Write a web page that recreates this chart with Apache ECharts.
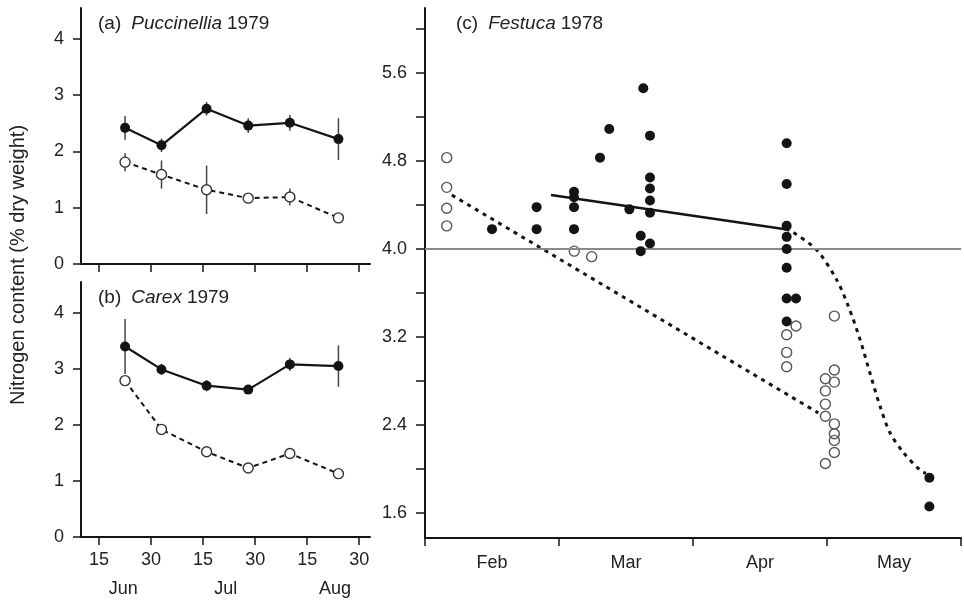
<!DOCTYPE html>
<html>
<head>
<meta charset="utf-8">
<script src="https://cdn.jsdelivr.net/npm/echarts@6/dist/echarts.min.js"></script>
<style>
  html, body { margin: 0; padding: 0; background: #fff; }
  #main { width: 964px; height: 601px; }
</style>
</head>
<body>
<div id="main"></div>
<script>
// sampling dates, days counted so that 15 Jun = 15, 30 Jun = 30, 15 Jul = 45 ...
const sampleDays = [22.5, 33, 46, 58, 70, 84];
const dayTicks = [15, 30, 45, 60, 75, 90];
const dayTickLabels = ["15", "30", "15", "30", "15", "30"];
const monthNamesAB = ["Jun", "Jul", "Aug"];
const monthPosAB = [22, 51.5, 83];

// (a) Puccinellia 1979
const puccFilled = [2.42, 2.11, 2.76, 2.46, 2.51, 2.22];
const puccFilledErr = [0.21, 0.12, 0.12, 0.13, 0.14, 0.37];
const puccOpen = [1.81, 1.59, 1.32, 1.17, 1.19, 0.82];
const puccOpenErr = [0.16, 0.25, 0.43, 0.09, 0.15, 0];

// (b) Carex 1979
const carexFilled = [3.40, 2.99, 2.70, 2.63, 3.08, 3.05];
const carexFilledErr = [0.49, 0.1, 0.1, 0.05, 0.12, 0.37];
const carexOpen = [2.79, 1.92, 1.52, 1.23, 1.49, 1.13];

const abTicks = [0, 1, 2, 3, 4];

// (c) Festuca 1978, x = months after 1 Feb
const monthNamesC = ["Feb", "Mar", "Apr", "May"];
const monthPosC = [0.5, 1.5, 2.5, 3.5];
const monthBoundsC = [0, 1, 2, 3, 4];
const cTicks = [1.6, 2.0, 2.4, 2.8, 3.2, 3.6, 4.0, 4.4, 4.8, 5.2, 5.6, 6.0];
const cLabels = [1.6, 2.4, 3.2, 4.0, 4.8, 5.6];

const festucaFilled = [
  [0.50, 4.18],
  [0.833, 4.38], [0.833, 4.18],
  [1.112, 4.52], [1.112, 4.47], [1.112, 4.38], [1.112, 4.18],
  [1.306, 4.83], [1.375, 5.09], [1.525, 4.36],
  [1.629, 5.46], [1.61, 4.12], [1.61, 3.98],
  [1.679, 5.03], [1.679, 4.65], [1.679, 4.55], [1.679, 4.44], [1.679, 4.33], [1.679, 4.05],
  [2.699, 4.96], [2.699, 4.59], [2.699, 4.21], [2.699, 4.11], [2.699, 4.00],
  [2.699, 3.83], [2.699, 3.55], [2.769, 3.55], [2.699, 3.34],
  [3.764, 1.92], [3.764, 1.66]
];
const festucaOpen = [
  [0.162, 4.83], [0.162, 4.56], [0.162, 4.37], [0.162, 4.21],
  [1.114, 3.98], [1.244, 3.93],
  [2.769, 3.30], [2.699, 3.22], [2.699, 3.06], [2.699, 2.93],
  [3.055, 3.39],
  [2.988, 2.82], [2.988, 2.71], [2.988, 2.59], [2.988, 2.48], [2.988, 2.05],
  [3.055, 2.90], [3.055, 2.79], [3.055, 2.41], [3.055, 2.32], [3.055, 2.26], [3.055, 2.15]
];
const festucaFilledTrend = [[0.94, 4.49], [2.69, 4.18]];
const festucaOpenTrend = [[0.2, 4.49], [2.935, 2.51]];
const festucaFilledCurve = [
  [2.69, 4.18], [2.736, 4.16], [2.923, 3.99], [3.072, 3.72], [3.159, 3.48],
  [3.246, 3.18], [3.321, 2.87], [3.396, 2.57], [3.47, 2.33], [3.57, 2.15],
  [3.694, 1.99], [3.739, 1.96]
];

const FONT = "Liberation Sans, Arial, sans-serif";
const INK = "#141414";

function zip(xs, ys) {
  return xs.map((x, i) => [x, ys[i]]);
}
function errData(xs, ys, es) {
  return xs.map((x, i) => [x, ys[i] - es[i], ys[i] + es[i]]);
}
function errorBars(xi, yi, data) {
  return {
    type: "custom",
    xAxisIndex: xi,
    yAxisIndex: yi,
    z: 1,
    encode: { x: 0, y: [1, 2] },
    data: data,
    renderItem: function (params, api) {
      const p1 = api.coord([api.value(0), api.value(1)]);
      const p2 = api.coord([api.value(0), api.value(2)]);
      return {
        type: "line",
        shape: { x1: p1[0], y1: p1[1], x2: p2[0], y2: p2[1] },
        style: { stroke: "#444", lineWidth: 1.5 }
      };
    }
  };
}
function filledLine(xi, yi, ys) {
  return {
    type: "line", xAxisIndex: xi, yAxisIndex: yi, z: 3,
    data: zip(sampleDays, ys),
    symbol: "circle", symbolSize: 10,
    itemStyle: { color: INK, opacity: 1 },
    lineStyle: { color: INK, width: 2.2 }
  };
}
function openLine(xi, yi, ys) {
  return {
    type: "line", xAxisIndex: xi, yAxisIndex: yi, z: 3,
    data: zip(sampleDays, ys),
    symbol: "circle", symbolSize: 10,
    itemStyle: { color: "#fff", borderColor: "#333", borderWidth: 1.4 },
    lineStyle: { color: INK, width: 2, type: [5, 4] }
  };
}

const labelStyle = { color: "#222", fontSize: 18, fontFamily: FONT };
const lineStyleAxis = { color: INK, width: 2 };

function dayAxis(gi, showLabels) {
  return {
    type: "value", gridIndex: gi, min: 9.8, max: 93.1, position: "bottom",
    axisLine: { lineStyle: lineStyleAxis },
    axisTick: { customValues: dayTicks, length: 8, lineStyle: { color: INK, width: 1.5 } },
    axisLabel: Object.assign({
      show: showLabels, customValues: dayTicks, margin: 14,
      formatter: v => dayTickLabels[dayTicks.indexOf(v)]
    }, labelStyle),
    splitLine: { show: false }
  };
}
function abYAxis(gi) {
  return {
    type: "value", gridIndex: gi, min: 0, max: 4.55,
    axisLine: { show: true, lineStyle: lineStyleAxis },
    axisTick: { show: true, customValues: abTicks, length: 8, lineStyle: { color: INK, width: 1.5 } },
    axisLabel: Object.assign({ customValues: abTicks, margin: 17 }, labelStyle),
    splitLine: { show: false }
  };
}

const titleRich = {
  n: { fontSize: 19, color: "#222", fontFamily: FONT, fontWeight: "normal" },
  i: { fontSize: 19, color: "#222", fontFamily: FONT, fontWeight: "normal", fontStyle: "italic" }
};

const chart = echarts.init(document.getElementById("main"));
const option = {
  animation: false,
  backgroundColor: "#fff",
  title: [
    { left: 93, top: 9, text: "{n|(a)}  {i|Puccinellia} {n|1979}", textStyle: { fontWeight: "normal", rich: titleRich } },
    { left: 93, top: 283, text: "{n|(b)}  {i|Carex} {n|1979}", textStyle: { fontWeight: "normal", rich: titleRich } },
    { left: 451, top: 9, text: "{n|(c)}  {i|Festuca} {n|1978}", textStyle: { fontWeight: "normal", rich: titleRich } }
  ],
  graphic: [{
    type: "text", x: 18, y: 265, rotation: Math.PI / 2,
    style: {
      text: "Nitrogen content (% dry weight)", fill: "#222",
      font: "20px " + FONT, align: "center", verticalAlign: "middle"
    }
  }],
  grid: [
    { left: 81, right: 594, top: 8, bottom: 337 },
    { left: 81, right: 594, top: 282, bottom: 64 },
    { left: 425, right: 3, top: 8, bottom: 63 }
  ],
  xAxis: [
    dayAxis(0, false),
    dayAxis(1, true),
    {
      type: "value", gridIndex: 1, min: 9.8, max: 93.1, position: "bottom",
      axisLine: { show: false }, axisTick: { show: false },
      axisLabel: Object.assign({
        customValues: monthPosAB, margin: 43,
        formatter: v => monthNamesAB[monthPosAB.indexOf(v)]
      }, labelStyle),
      splitLine: { show: false }
    },
    {
      type: "value", gridIndex: 2, min: 0, max: 4, position: "bottom",
      axisLine: { lineStyle: lineStyleAxis },
      axisTick: { customValues: monthBoundsC, length: 8, lineStyle: { color: INK, width: 1.5 } },
      axisLabel: Object.assign({
        customValues: monthPosC, margin: 16,
        formatter: v => monthNamesC[monthPosC.indexOf(v)]
      }, labelStyle),
      splitLine: { show: false }
    }
  ],
  yAxis: [
    abYAxis(0),
    abYAxis(1),
    {
      type: "value", gridIndex: 2, min: 1.373, max: 6.19,
      axisLine: { show: true, lineStyle: lineStyleAxis },
      axisTick: { show: true, customValues: cTicks, length: 9, lineStyle: { color: INK, width: 1.5 } },
      axisLabel: Object.assign({
        customValues: cLabels, margin: 18, formatter: v => v.toFixed(1)
      }, labelStyle),
      splitLine: { show: false }
    }
  ],
  series: [
    errorBars(0, 0, errData(sampleDays, puccFilled, puccFilledErr)),
    errorBars(0, 0, errData(sampleDays, puccOpen, puccOpenErr)),
    filledLine(0, 0, puccFilled),
    openLine(0, 0, puccOpen),
    errorBars(1, 1, errData(sampleDays, carexFilled, carexFilledErr)),
    filledLine(1, 1, carexFilled),
    openLine(1, 1, carexOpen),
    {
      type: "line", xAxisIndex: 3, yAxisIndex: 2, z: 2,
      data: festucaFilledTrend, symbol: "none",
      lineStyle: { color: INK, width: 2.5 }
    },
    {
      type: "line", xAxisIndex: 3, yAxisIndex: 2, z: 2,
      data: festucaOpenTrend, symbol: "none",
      lineStyle: { color: INK, width: 3, type: [4, 5] }
    },
    {
      type: "line", xAxisIndex: 3, yAxisIndex: 2, z: 2,
      data: festucaFilledCurve, symbol: "none", smooth: 0.3,
      lineStyle: { color: INK, width: 3, type: [4, 5] }
    },
    {
      type: "scatter", xAxisIndex: 3, yAxisIndex: 2, z: 4,
      data: festucaOpen, symbol: "circle", symbolSize: 10,
      itemStyle: { color: "rgba(255,255,255,0)", borderColor: "#555", borderWidth: 1.4, opacity: 1 }
    },
    {
      type: "scatter", xAxisIndex: 3, yAxisIndex: 2, z: 5,
      data: festucaFilled, symbol: "circle", symbolSize: 10,
      itemStyle: { color: INK, opacity: 1 },
      markLine: {
        silent: true, symbol: "none", label: { show: false },
        lineStyle: { color: "#8a8a8a", width: 1.8, type: "solid" },
        data: [{ yAxis: 4.0 }]
      }
    }
  ]
};
chart.setOption(option);
window.addEventListener("resize", chart.resize);
</script>
</body>
</html>
